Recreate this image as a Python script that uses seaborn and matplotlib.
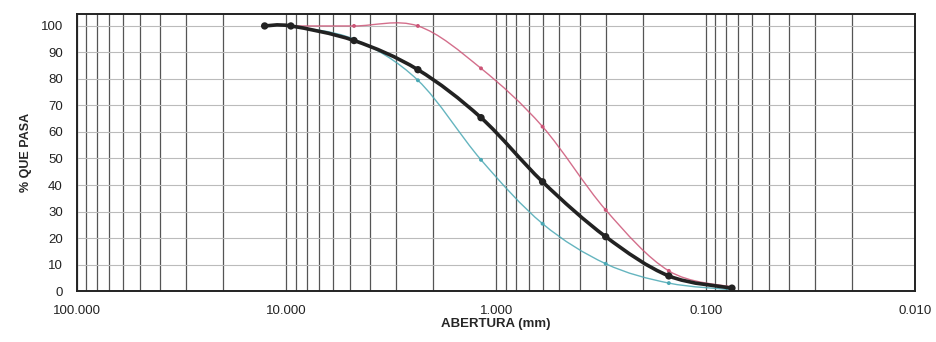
import numpy as np
import pandas as pd
import matplotlib
matplotlib.use('Agg')
import matplotlib.pyplot as plt
import seaborn as sns
from matplotlib.path import Path
from matplotlib.patches import PathPatch

aberturas = [12.7, 9.525, 4.76, 2.36, 1.18, 0.6, 0.3, 0.15, 0.075]
pasa_muestra = [100, 100, 94.5, 83.5, 65.4, 41.2, 20.5, 5.7, 1.1]

aberturas_lim = [9.525, 4.76, 2.36, 1.18, 0.6, 0.3, 0.15, 0.075]
lim_superior = [100, 100, 100, 84, 62, 30.6, 7.6, 1.5]
lim_inferior = [100, 95, 79.5, 49.5, 25.4, 10.3, 3, 0.5]

xticks = [100, 10, 1, 0.1, 0.01]
xtick_labels = ['100.000', '10.000', '1.000', '0.100', '0.010']
yticks = list(range(0, 101, 10))


# curva suavizada tipo Excel (bezier sobre escala log)
def curva_suave(ax, x, y, color, lw, alpha=1.0):
    lx = np.log10(x)
    y = np.asarray(y, float)
    n = len(lx)
    verts = [(x[0], y[0])]
    codes = [Path.MOVETO]
    for i in range(n - 1):
        i0 = max(i - 1, 0)
        i3 = min(i + 2, n - 1)
        c1 = (lx[i] + (lx[i + 1] - lx[i0]) / 6, y[i] + (y[i + 1] - y[i0]) / 6)
        c2 = (lx[i + 1] - (lx[i3] - lx[i]) / 6, y[i + 1] - (y[i3] - y[i]) / 6)
        verts += [(10 ** c1[0], c1[1]), (10 ** c2[0], c2[1]), (x[i + 1], y[i + 1])]
        codes += [Path.CURVE4] * 3
    ax.add_patch(PathPatch(Path(verts, codes), fill=False, edgecolor=color,
                           lw=lw, alpha=alpha, zorder=3, capstyle='round'))


sns.set_style('white')
plt.rcParams['font.family'] = ['Liberation Sans', 'DejaVu Sans']

fig = plt.figure(figsize=(9.36, 3.42), dpi=100)
ax = fig.add_axes([0.082, 0.149, 0.896, 0.81])

ax.set_xscale('log')
ax.set_xlim(100, 0.01)
ax.set_ylim(0, 104.5)

# rejilla
ax.grid(True, which='both', axis='x', color='#555555', lw=0.9)
ax.grid(True, which='major', axis='y', color='#bbbbbb', lw=0.8)
ax.set_axisbelow(True)

color_sup = '#cc5577'
color_inf = '#4aa8b4'
color_mue = '#222222'

curva_suave(ax, aberturas_lim, lim_superior, color_sup, 1.0, 0.85)
curva_suave(ax, aberturas_lim, lim_inferior, color_inf, 1.0, 0.85)
curva_suave(ax, aberturas, pasa_muestra, color_mue, 2.6)

sns.scatterplot(x=aberturas_lim, y=lim_superior, color=color_sup, s=8,
                edgecolor='none', ax=ax, zorder=4)
sns.scatterplot(x=aberturas_lim, y=lim_inferior, color=color_inf, s=8,
                edgecolor='none', ax=ax, zorder=4)
sns.scatterplot(x=aberturas, y=pasa_muestra, color=color_mue, s=28,
                edgecolor='none', ax=ax, zorder=5)

ax.set_xticks(xticks)
ax.set_xticklabels(xtick_labels)
ax.xaxis.set_minor_formatter(matplotlib.ticker.NullFormatter())
ax.set_yticks(yticks)
ax.tick_params(axis='both', which='both', length=0, labelsize=9.5, colors='#222222')
ax.tick_params(axis='x', pad=10)
ax.tick_params(axis='y', pad=10)

ax.set_xlabel('ABERTURA (mm)', fontsize=9.5, fontweight='bold', labelpad=1)
ax.set_ylabel('% QUE PASA', fontsize=9, fontweight='bold', labelpad=6)

for s in ax.spines.values():
    s.set_visible(True)
    s.set_color('#222222')
    s.set_linewidth(1.4)

fig.savefig('out.png', dpi=100)
